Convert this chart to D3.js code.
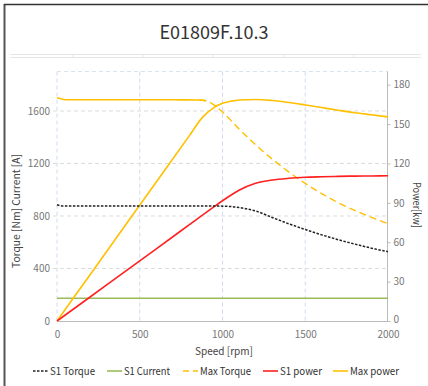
<!DOCTYPE html>
<html>
<head>
<meta charset="utf-8">
<script src="https://cdn.jsdelivr.net/npm/d3@7"></script>
<style>
  html, body { margin: 0; padding: 0; background: #fff; }
  svg { display: block; font-family: "Noto Sans CJK SC", "Noto Sans", sans-serif; }
</style>
</head>
<body>
<svg id="chart" width="428" height="386"></svg>
<script>
const title = "E01809F.10.3";
const speedTicks = [0, 500, 1000, 1500, 2000];
const leftTicks = [0, 400, 800, 1200, 1600];
const rightTicks = [0, 30, 60, 90, 120, 150, 180];

// S1 torque [Nm]
const s1TorqueSpeed = [0, 30, 100, 300, 500, 700, 900, 1000, 1050, 1100, 1200, 1300, 1400, 1500, 1600, 1700, 1800, 1900, 2000];
const s1Torque =      [885, 877, 877, 876, 876, 876, 876, 875, 872, 864, 838, 789, 741, 697, 656, 619, 586, 555, 528];

// S1 current [A]
const s1CurrentSpeed = [0, 2000];
const s1Current = [173, 173];

// Max torque [Nm]
const maxTorqueSpeed = [0, 50, 100, 300, 500, 700, 860, 900, 950, 1000, 1100, 1200, 1300, 1400, 1500, 1600, 1700, 1800, 1900, 2000];
const maxTorque =      [1700, 1686, 1685, 1685, 1685, 1685, 1684, 1678, 1645, 1592, 1463, 1342, 1234, 1136, 1048, 970, 901, 842, 790, 742];
const maxTorqueSolidUpTo = 880;

// S1 power [kW]
const s1PowerSpeed = [0, 200, 400, 600, 800, 950, 1000, 1050, 1100, 1200, 1300, 1400, 1500, 1600, 1700, 1800, 1900, 2000];
const s1Power =      [0, 18.3, 36.7, 55.0, 73.4, 87.2, 91.6, 95.8, 99.6, 104.9, 107.4, 108.7, 109.5, 109.9, 110.2, 110.4, 110.5, 110.6];

// Max power [kW]
const maxPowerSpeed = [0, 200, 400, 600, 800, 880, 950, 1000, 1100, 1200, 1300, 1400, 1500, 1600, 1700, 1800, 1900, 2000];
const maxPower =      [0, 35.3, 70.6, 105.9, 141.2, 155.3, 162.8, 165.8, 168.4, 168.8, 168.0, 166.5, 164.6, 162.6, 160.6, 158.7, 157.1, 155.5];

const legendItems = ["S1 Torque", "S1 Current", "Max Torque", "S1 power", "Max power"];

const colors = { black: "#222", green: "#9bbb59", yellow: "#ffc000", red: "#ff2020" };

const svg = d3.select("#chart");

// frame
svg.append("line").attr("x1", 4.5).attr("x2", 4.5).attr("y1", 4).attr("y2", 386).attr("stroke", "#555").attr("stroke-width", 2);
svg.append("line").attr("x1", 4).attr("x2", 428).attr("y1", 4.5).attr("y2", 4.5).attr("stroke", "#333").attr("stroke-width", 1.5);

// title
svg.append("text").attr("x", 214).attr("y", 39).attr("text-anchor", "middle")
  .attr("font-size", 18).attr("fill", "#333").text(title);

// separator
svg.append("line").attr("x1", 10).attr("x2", 421).attr("y1", 54.5).attr("y2", 54.5).attr("stroke", "#e6e6e6").attr("stroke-width", 1.2);
svg.append("line").attr("x1", 10).attr("x2", 421).attr("y1", 57.5).attr("y2", 57.5).attr("stroke", "#e6e6e6").attr("stroke-width", 1.2);
[73, 143, 213, 283.5, 353.5].forEach(x => {
  svg.append("line").attr("x1", x).attr("x2", x).attr("y1", 54.5).attr("y2", 57.5).attr("stroke", "#e6e6e6");
});

const L = 57, R = 388, T = 71.6, B = 321;
const x = d3.scaleLinear().domain([0, 2000]).range([L, R]);
const yL = d3.scaleLinear().domain([0, 1900]).range([B, T]);
const yR = d3.scaleLinear().domain([0, 190]).range([B, T]);

// grid
const g = svg.append("g");
speedTicks.forEach(t => {
  if (t === 2000) return;
  g.append("line").attr("x1", x(t)).attr("x2", x(t)).attr("y1", T).attr("y2", B)
    .attr("stroke", "#cfdcee").attr("stroke-dasharray", "4,3").attr("stroke-width", 1);
});
leftTicks.slice(1).forEach(t => {
  g.append("line").attr("x1", L - 4).attr("x2", R).attr("y1", yL(t)).attr("y2", yL(t))
    .attr("stroke", "#dcdcdc").attr("stroke-dasharray", "4,3").attr("stroke-width", 1);
});
g.append("line").attr("x1", L).attr("x2", R).attr("y1", T).attr("y2", T)
  .attr("stroke", "#d6e2f0").attr("stroke-dasharray", "4,3");

// bottom axis line
svg.append("line").attr("x1", L).attr("x2", R).attr("y1", B + 0.5).attr("y2", B + 0.5).attr("stroke", "#bbb");
// right axis line
svg.append("line").attr("x1", R - 0.5).attr("x2", R - 0.5).attr("y1", T).attr("y2", B).attr("stroke", "#bbb");

const fmt = d3.format("d");
const tickFont = 10;
// x axis
const xAxis = svg.append("g").attr("transform", `translate(0,${B})`)
  .call(d3.axisBottom(x).tickValues(speedTicks).tickFormat(fmt).tickSize(0).tickPadding(10));
xAxis.select(".domain").remove();
xAxis.selectAll("text").attr("font-size", tickFont).attr("fill", "#777").attr("font-family", "Noto Sans CJK SC, sans-serif");

// left axis
const yAxisL = svg.append("g").attr("transform", `translate(${L},0)`)
  .call(d3.axisLeft(yL).tickValues(leftTicks).tickFormat(fmt).tickSize(0).tickPadding(7));
yAxisL.select(".domain").remove();
yAxisL.selectAll("text").attr("font-size", tickFont).attr("fill", "#777").attr("font-family", "Noto Sans CJK SC, sans-serif");

// right axis
const yAxisR = svg.append("g").attr("transform", `translate(${R - 0.5},0)`)
  .call(d3.axisRight(yR).tickValues(rightTicks).tickFormat(fmt).tickSize(3).tickPadding(3));
yAxisR.select(".domain").remove();
yAxisR.selectAll("line").attr("stroke", "#bbb");
yAxisR.selectAll("text").attr("font-size", tickFont).attr("fill", "#777").attr("font-family", "Noto Sans CJK SC, sans-serif");
// nudge the right-axis "0" up a little so it does not touch the "2000" speed label
yAxisR.selectAll(".tick").filter(d => d === 0).select("text").attr("dy", "0.1em");

// axis titles
svg.append("text").attr("transform", "translate(20,211) rotate(-90)").attr("text-anchor", "middle")
  .attr("font-size", 10.5).attr("fill", "#444")
  .attr("textLength", 114).attr("lengthAdjust", "spacingAndGlyphs")
  .text("Torque [Nm]  Current [A]");
svg.append("text").attr("transform", "translate(413,205) rotate(90)").attr("text-anchor", "middle")
  .attr("font-size", 10.5).attr("fill", "#444")
  .attr("textLength", 46).attr("lengthAdjust", "spacingAndGlyphs")
  .text("Power[kw]");
svg.append("text").attr("x", 224).attr("y", 355).attr("text-anchor", "middle")
  .attr("font-size", 10.5).attr("fill", "#444")
  .attr("textLength", 58).attr("lengthAdjust", "spacingAndGlyphs")
  .text("Speed  [rpm]");

// lines
const curve = d3.curveMonotoneX;
function draw(xs, ys, yScale, color, dash, width) {
  const data = xs.map((s, i) => [s, ys[i]]);
  svg.append("path").datum(data)
    .attr("d", d3.line().x(d => x(d[0])).y(d => yScale(d[1])).curve(curve))
    .attr("fill", "none").attr("stroke", color).attr("stroke-width", width || 1.5)
    .attr("stroke-dasharray", dash || null);
}
draw(s1CurrentSpeed, s1Current, yL, colors.green, null, 1.5);
draw(maxPowerSpeed, maxPower, yR, colors.yellow, null, 1.6);
// max torque: solid along the flat part, dashed afterwards
{
  const data = maxTorqueSpeed.map((s, i) => [s, maxTorque[i]]);
  const line = d3.line().x(d => x(d[0])).y(d => yL(d[1])).curve(curve);
  const solidPart = data.filter(d => d[0] <= maxTorqueSolidUpTo + 20);
  const dashedPart = data.filter(d => d[0] >= maxTorqueSolidUpTo - 20);
  svg.append("path").datum(solidPart).attr("d", line).attr("fill", "none").attr("stroke", colors.yellow).attr("stroke-width", 1.6);
  svg.append("path").datum(dashedPart).attr("d", line).attr("fill", "none").attr("stroke", colors.yellow).attr("stroke-width", 1.4).attr("stroke-dasharray", "7,4");
}
draw(s1PowerSpeed, s1Power, yR, colors.red, null, 1.6);
draw(s1TorqueSpeed, s1Torque, yL, colors.black, "2.5,1.5", 1.5);

// legend
const legendX = [33, 107, 183, 263, 333];
const legendW = [45, 46, 51, 42, 49];
const legendStyles = [
  { color: colors.black, dash: "2.5,1.5" },
  { color: colors.green, dash: null },
  { color: colors.yellow, dash: "6,4" },
  { color: colors.red, dash: null },
  { color: colors.yellow, dash: null },
];
const leg = svg.append("g");
legendItems.forEach((name, i) => {
  const lx = legendX[i];
  leg.append("line").attr("x1", lx).attr("x2", lx + 15).attr("y1", 371).attr("y2", 371)
    .attr("stroke", legendStyles[i].color).attr("stroke-width", 1.6).attr("stroke-dasharray", legendStyles[i].dash);
  leg.append("text").attr("x", lx + 17).attr("y", 375).attr("font-size", 10.5).attr("fill", "#333")
    .attr("textLength", legendW[i]).attr("lengthAdjust", "spacingAndGlyphs").text(name);
});
</script>
</body>
</html>
